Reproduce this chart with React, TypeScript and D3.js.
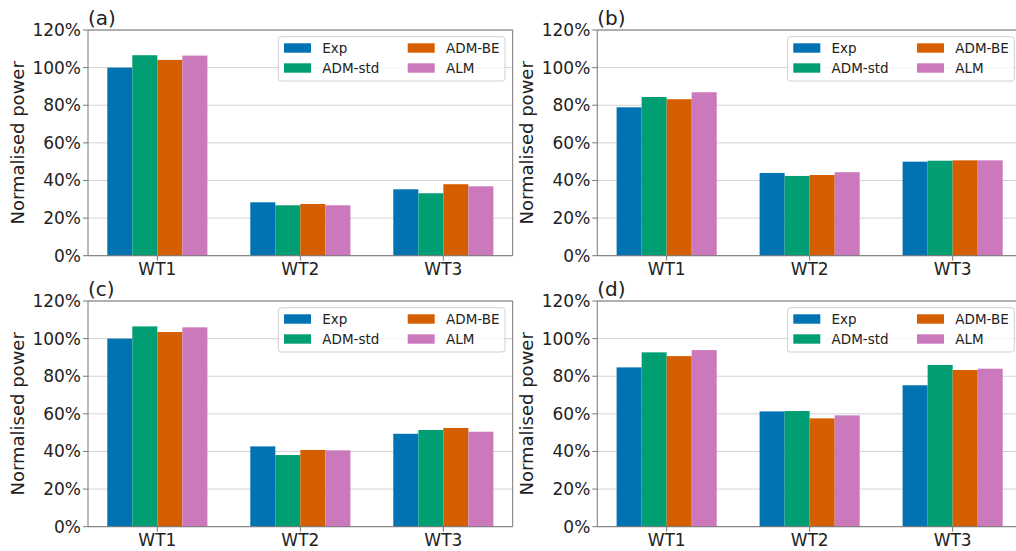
import React from "react";
import * as d3 from "d3";

const categories = ["WT1", "WT2", "WT3"];
const seriesNames = ["Exp", "ADM-std", "ADM-BE", "ALM"];
const seriesColors = ["#0173b2", "#029e73", "#d55e00", "#cc78bc"];
const yTicks = [0, 20, 40, 60, 80, 100, 120];
const panelLabels = ["(a)", "(b)", "(c)", "(d)"];

// values per panel: [series][category] in %
const panelA = [
  [100.0, 28.4, 35.3],
  [106.6, 26.8, 33.2],
  [104.1, 27.5, 38.0],
  [106.4, 26.8, 36.9],
];
const panelB = [
  [78.9, 44.0, 50.0],
  [84.4, 42.4, 50.5],
  [83.2, 42.9, 50.7],
  [86.9, 44.4, 50.7],
];
const panelC = [
  [100.0, 42.7, 49.4],
  [106.5, 38.1, 51.4],
  [103.5, 40.8, 52.5],
  [106.0, 40.6, 50.5],
];
const panelD = [
  [84.7, 61.3, 75.2],
  [92.7, 61.5, 86.0],
  [90.7, 57.6, 83.3],
  [93.9, 59.2, 84.0],
];
const panelData = [panelA, panelB, panelC, panelD];

const FONT = "'DejaVu Sans', sans-serif";
const W = 1016;
const H = 551;
const BAR_W = 0.175;

const boxes = [
  { x0: 88, x1: 512.7, y0: 30, y1: 255.7 },
  { x0: 597.3, x1: 1022, y0: 30, y1: 255.7 },
  { x0: 88, x1: 512.7, y0: 301, y1: 526.7 },
  { x0: 597.3, x1: 1022, y0: 301, y1: 526.7 },
];

function Panel({ idx }: { idx: number }) {
  const b = boxes[idx];
  const data = panelData[idx];
  const x = d3.scaleLinear().domain([-0.485, 2.485]).range([b.x0, b.x1]);
  const y = d3.scaleLinear().domain([0, 120]).range([b.y1, b.y0]);
  const bw = x(BAR_W) - x(0);
  const lx = b.x0 + 190.3;
  const ly = b.y0 + 6.7;
  return (
    <g>
      {yTicks.map((t) => (
        <line key={"g" + t} x1={b.x0} x2={b.x1} y1={y(t)} y2={y(t)} stroke="#d3d3d3" strokeWidth={1} />
      ))}
      {data.map((vals, s) =>
        vals.map((v, c) => {
          const cx = x(c + (s - 1.5) * BAR_W) - bw / 2;
          return (
            <rect key={s + "-" + c} x={cx} y={y(v)} width={bw} height={y(0) - y(v)} fill={seriesColors[s]} />
          );
        })
      )}
      <line x1={b.x0} x2={b.x0} y1={b.y0} y2={b.y1} stroke="#777" strokeWidth={1} />
      <line x1={b.x0} x2={b.x1} y1={b.y1} y2={b.y1} stroke="#777" strokeWidth={1} />
      <line x1={b.x0} x2={b.x1} y1={b.y0} y2={b.y0} stroke="#777" strokeWidth={1} />
      <line x1={b.x1} x2={b.x1} y1={b.y0} y2={b.y1} stroke="#777" strokeWidth={1} />
      {yTicks.map((t) => (
        <g key={"t" + t}>
          <line x1={b.x0 - 5} x2={b.x0} y1={y(t)} y2={y(t)} stroke="#777" strokeWidth={1} />
          <text x={b.x0 - 7} y={y(t) + 6} textAnchor="end" fontSize={17} fontFamily={FONT} fill="#222">
            {t + "%"}
          </text>
        </g>
      ))}
      {categories.map((c, i) => (
        <g key={c}>
          <line x1={x(i)} x2={x(i)} y1={b.y1} y2={b.y1 + 5} stroke="#777" strokeWidth={1} />
          <text x={x(i)} y={b.y1 + 19} textAnchor="middle" fontSize={17} fontFamily={FONT} fill="#222">
            {c}
          </text>
        </g>
      ))}
      <text
        transform={`translate(${b.x0 - 64},${(b.y0 + b.y1) / 2}) rotate(-90)`}
        textAnchor="middle"
        fontSize={18}
        fontFamily={FONT}
        fill="#222"
      >
        Normalised power
      </text>
      <text x={b.x0} y={b.y0 - 5.5} fontSize={20} fontFamily={FONT} fill="#222">
        {panelLabels[idx]}
      </text>
      <rect x={lx} y={ly} width={226.7} height={44.3} rx={3} fill="white" fillOpacity={0.8} stroke="#d0d0d0" strokeWidth={1} />
      {seriesNames.map((n, s) => {
        const col = s % 2 === 0 ? 0 : 1;
        const row = s < 2 ? (s === 0 ? 0 : 1) : s === 2 ? 0 : 1;
        const colIdx = s < 2 ? 0 : 1;
        const hx = lx + (colIdx === 0 ? 5.7 : 129.4);
        const tx = lx + (colIdx === 0 ? 44 : 167.7);
        const cy = ly + 11.3 + row * 20;
        void col;
        return (
          <g key={n}>
            <rect x={hx} y={cy - 4.7} width={27} height={9.4} fill={seriesColors[s]} />
            <text x={tx} y={cy + 4.8} fontSize={13.5} fontFamily={FONT} fill="#222">
              {n}
            </text>
          </g>
        );
      })}
    </g>
  );
}

export default function App() {
  return (
    <svg width={W} height={H} style={{ position: "absolute", left: 0, top: 0, background: "white" }}>
      <rect x={0} y={0} width={W} height={H} fill="white" />
      {[0, 1, 2, 3].map((i) => (
        <Panel key={i} idx={i} />
      ))}
    </svg>
  );
}
